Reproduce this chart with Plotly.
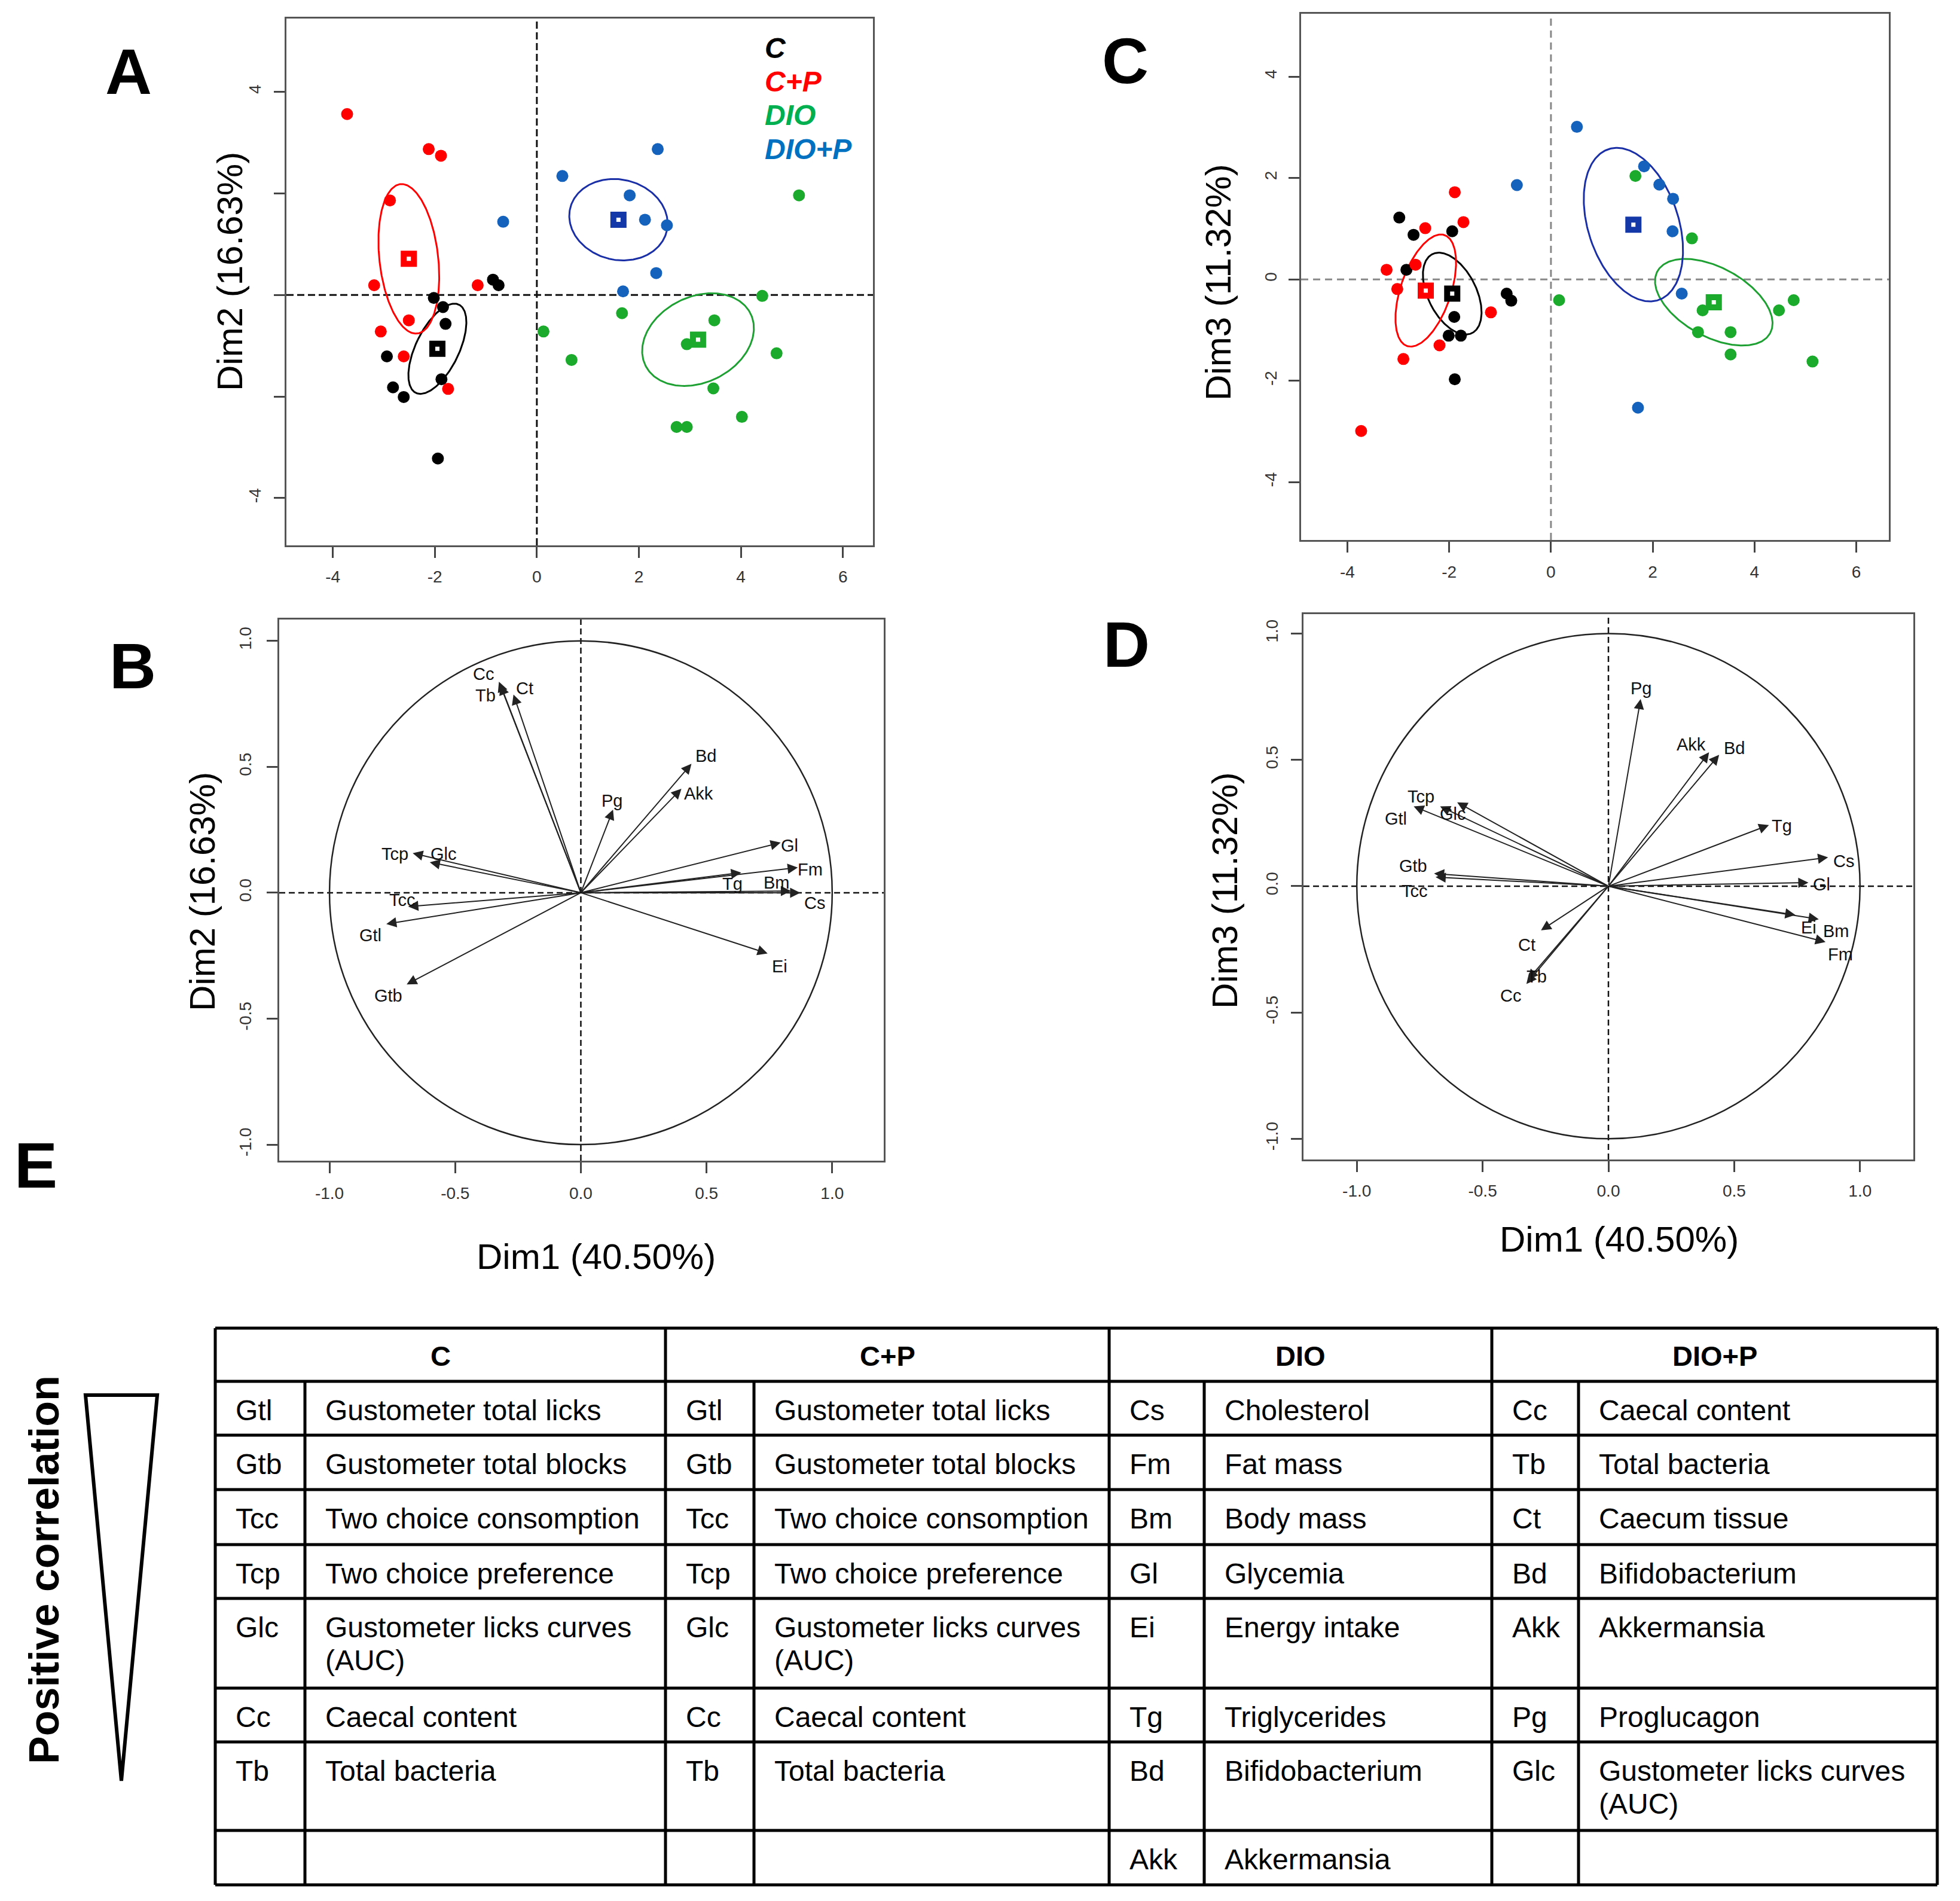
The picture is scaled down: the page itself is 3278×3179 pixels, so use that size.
import numpy as np
import plotly.graph_objects as go

W, H = 3278, 3179
FONT = "Liberation Sans"

# ---------------- DATA ----------------
groups = ["C", "C+P", "DIO", "DIO+P"]
point_colors = ["#000000", "#FF0000", "#1BAA2C", "#1462BC"]
ellipse_colors = ["#000000", "#FF0000", "#1FA033", "#1A2EA6"]
legend_colors = ["#000000", "#FF0000", "#00B050", "#0070C0"]

# Panel A : individuals on Dim1 / Dim2
A_dim1 = {
    "C": [-0.86, -0.75, -2.02, -1.84, -1.79, -2.94, -1.87, -2.82, -2.61, -1.94],
    "C+P": [-3.72, -2.12, -1.88, -2.88, -3.19, -1.16, -2.51, -3.06, -2.61, -1.74],
    "DIO": [0.13, 0.68, 1.67, 5.14, 4.42, 3.48, 2.94, 4.70, 3.46, 4.02, 2.74, 2.94],
    "DIO+P": [-0.66, 0.50, 2.37, 1.82, 2.12, 2.55, 2.34, 1.69],
}
A_dim2 = {
    "C": [0.30, 0.19, -0.06, -0.24, -0.57, -1.21, -1.66, -1.82, -2.01, -3.22],
    "C+P": [3.56, 2.87, 2.74, 1.86, 0.19, 0.19, -0.50, -0.72, -1.21, -1.85],
    "DIO": [-0.72, -1.28, -0.36, 1.96, -0.02, -0.50, -0.97, -1.15, -1.84, -2.40, -2.60, -2.60],
    "DIO+P": [1.44, 2.34, 2.87, 1.96, 1.48, 1.37, 0.43, 0.07],
}
A_bary1 = {"C": -1.95, "C+P": -2.51, "DIO": 3.16, "DIO+P": 1.60}
A_bary2 = {"C": -1.06, "C+P": 0.71, "DIO": -0.88, "DIO+P": 1.48}

# Panel C : individuals on Dim1 / Dim3
C_dim1 = {
    "C": [-2.98, -2.70, -1.94, -2.84, -0.87, -0.78, -1.90, -2.01, -1.77, -1.89],
    "C+P": [-1.89, -1.72, -2.47, -3.23, -2.66, -3.02, -1.18, -2.19, -2.90, -3.73],
    "DIO": [1.66, 2.77, 0.16, 2.98, 2.89, 3.53, 4.48, 4.77, 3.53, 5.14],
    "DIO+P": [-0.67, 0.51, 1.83, 2.13, 2.40, 2.39, 2.57, 1.71],
}
C_dim3 = {
    "C": [1.22, 0.88, 0.95, 0.19, -0.28, -0.42, -0.74, -1.11, -1.11, -1.97],
    "C+P": [1.72, 1.13, 1.01, 0.19, 0.29, -0.19, -0.65, -1.30, -1.57, -2.99],
    "DIO": [2.04, 0.81, -0.41, -0.61, -1.04, -1.04, -0.61, -0.41, -1.48, -1.62],
    "DIO+P": [1.86, 3.01, 2.23, 1.87, 1.59, 0.95, -0.28, -2.53],
}
C_bary1 = {"C": -1.94, "C+P": -2.46, "DIO": 3.20, "DIO+P": 1.62}
C_bary3 = {"C": -0.28, "C+P": -0.22, "DIO": -0.45, "DIO+P": 1.08}

# Variables (correlation circles)
var_names = ["Cc", "Tb", "Ct", "Bd", "Akk", "Pg", "Gl", "Fm", "Tg", "Bm", "Cs", "Ei",
             "Tcp", "Glc", "Tcc", "Gtl", "Gtb"]
var_dim1 = [-0.326, -0.320, -0.268, 0.440, 0.400, 0.128, 0.795, 0.863, 0.638, 0.836, 0.873, 0.743,
            -0.669, -0.601, -0.687, -0.774, -0.693]
var_dim2 = [0.838, 0.826, 0.787, 0.512, 0.413, 0.330, 0.199, 0.100, 0.080, 0.007, 0.000, -0.241,
            0.157, 0.121, -0.055, -0.124, -0.364]
var_dim3 = [-0.387, -0.370, -0.175, 0.520, 0.530, 0.741, 0.014, -0.221, 0.242, -0.131, 0.114, -0.114,
            0.316, 0.332, 0.036, 0.316, 0.050]

# Table E
table_groups = ["C", "C+P", "DIO", "DIO+P"]
table_abbr = [
    ["Gtl", "Gtb", "Tcc", "Tcp", "Glc", "Cc", "Tb", ""],
    ["Gtl", "Gtb", "Tcc", "Tcp", "Glc", "Cc", "Tb", ""],
    ["Cs", "Fm", "Bm", "Gl", "Ei", "Tg", "Bd", "Akk"],
    ["Cc", "Tb", "Ct", "Bd", "Akk", "Pg", "Glc", ""],
]
table_desc = [
    ["Gustometer total licks", "Gustometer total blocks", "Two choice consomption",
     "Two choice preference", "Gustometer licks curves\n(AUC)", "Caecal content", "Total bacteria", ""],
    ["Gustometer total licks", "Gustometer total blocks", "Two choice consomption",
     "Two choice preference", "Gustometer licks curves\n(AUC)", "Caecal content", "Total bacteria", ""],
    ["Cholesterol", "Fat mass", "Body mass", "Glycemia", "Energy intake", "Triglycerides",
     "Bifidobacterium", "Akkermansia"],
    ["Caecal content", "Total bacteria", "Caecum tissue", "Bifidobacterium", "Akkermansia",
     "Proglucagon", "Gustometer licks curves\n(AUC)", ""],
]

# ---------------- STYLE / LAYOUT ----------------
B_label_shift = {"Cc": (-26, 13), "Tb": (-25, -18), "Ct": (19, 11), "Bd": (24, 13), "Akk": (29, -8),
                 "Pg": (-2, 15), "Gl": (15, -5), "Fm": (21, -3), "Tg": (-15, -19), "Bm": (-24, 14),
                 "Cs": (24, -17), "Ei": (20, -22), "Tcp": (-30, -1), "Glc": (23, 14), "Tcc": (-10, 11),
                 "Gtl": (-27, -19), "Gtb": (-31, -19)}
D_label_shift = {"Pg": (1, 18), "Akk": (-30, 13), "Bd": (25, 11), "Tg": (22, -1), "Cs": (26, -6),
                 "Gl": (22, -3), "Ei": (22, -21), "Bm": (29, -20), "Fm": (25, -21), "Tcp": (-32, 16),
                 "Gtl": (-30, -21), "Glc": (-7, -19), "Gtb": (-35, 13), "Tcc": (-35, -23),
                 "Ct": (-24, -24), "Tb": (15, 5), "Cc": (-26, -20)}


def fx(p):
    return p / W


def fy(p):
    return 1 - p / H


def conf_ellipse(xs, ys, cx, cy, n=240):
    xs = np.asarray(xs, float)
    ys = np.asarray(ys, float)
    cov = np.cov(xs, ys) / len(xs)
    vals, vecs = np.linalg.eigh(cov)
    t = np.linspace(0, 2 * np.pi, n)
    circ = np.vstack([np.cos(t), np.sin(t)])
    pts = vecs @ (np.sqrt(vals * 5.991)[:, None] * circ)
    return cx + pts[0], cy + pts[1]


def paper_text(x, y, text, size, color="black", angle=0, xanchor="center", yanchor="middle"):
    return dict(x=fx(x), y=fy(y), xref="paper", yref="paper", showarrow=False, text=text,
                textangle=angle, xanchor=xanchor, yanchor=yanchor,
                font=dict(family=FONT, size=size, color=color))


fig = go.Figure()

# --- individuals panels A (x,y) and C (x2,y2)
for (d1, d2, b1, b2, xa, ya) in [(A_dim1, A_dim2, A_bary1, A_bary2, "x", "y"),
                                 (C_dim1, C_dim3, C_bary1, C_bary3, "x2", "y2")]:
    for g, pc, ec in zip(groups, point_colors, ellipse_colors):
        ex, ey = conf_ellipse(d1[g], d2[g], b1[g], b2[g])
        fig.add_trace(go.Scatter(x=ex, y=ey, mode="lines", line=dict(color=ec, width=3),
                                 xaxis=xa, yaxis=ya, showlegend=False, hoverinfo="skip"))
    for g, pc, ec in zip(groups, point_colors, ellipse_colors):
        fig.add_trace(go.Scatter(x=d1[g], y=d2[g], mode="markers",
                                 marker=dict(color=pc, size=20, line=dict(width=0)),
                                 xaxis=xa, yaxis=ya, showlegend=False, name=g))
    for g, pc, ec in zip(groups, point_colors, ellipse_colors):
        fig.add_trace(go.Scatter(x=[b1[g]], y=[b2[g]], mode="markers",
                                 marker=dict(symbol="square", color="white", size=17,
                                             line=dict(color=pc if g != "DIO+P" else "#1438A8", width=10)),
                                 xaxis=xa, yaxis=ya, showlegend=False))

annotations = []
shapes = []

# --- variable arrows panels B (x3,y3) and D (x4,y4)
for (vy, xa, ya, shifts) in [(var_dim2, "x3", "y3", B_label_shift), (var_dim3, "x4", "y4", D_label_shift)]:
    for name, vx, vyy in zip(var_names, var_dim1, vy):
        annotations.append(dict(x=vx, y=vyy, ax=0, ay=0, xref=xa, yref=ya, axref=xa, ayref=ya,
                                text="", showarrow=True, arrowhead=2, arrowsize=1.7, arrowwidth=2,
                                arrowcolor="#222222", standoff=0, startstandoff=0))
    for name, vx, vyy in zip(var_names, var_dim1, vy):
        sx, sy = shifts[name]
        annotations.append(dict(x=vx, y=vyy, xref=xa, yref=ya, text=name, showarrow=False,
                                xanchor="center", yanchor="middle",
                                xshift=sx, yshift=sy, font=dict(family=FONT, size=29, color="#111")))
    shapes.append(dict(type="circle", xref=xa, yref=ya, x0=-1, x1=1, y0=-1, y1=1,
                       line=dict(color="#222", width=2.5), layer="below"))

# --- dashed zero lines
for xa, ya, col, wd, dash in [("x", "y", "#111", 3, "12px,6px"), ("x2", "y2", "#888", 3, "12px,8px"),
                              ("x3", "y3", "#111", 2.5, "10px,6px"), ("x4", "y4", "#111", 2.5, "10px,6px")]:
    shapes.append(dict(type="line", xref=xa, yref=ya + " domain", x0=0, x1=0, y0=0, y1=1,
                       line=dict(color=col, width=wd, dash=dash), layer="below"))
    shapes.append(dict(type="line", xref=xa + " domain", yref=ya, x0=0, x1=1, y0=0, y1=0,
                       line=dict(color=col, width=wd, dash=dash), layer="below"))

# --- legend in panel A
for i, (g, c) in enumerate(zip(groups, legend_colors)):
    annotations.append(paper_text(1277, 80 + i * 56.5, "<b><i>%s</i></b>" % g, 48, c, xanchor="left"))

# --- panel letters
for letter, (lx, ly) in zip("ABCDE", [(215, 119), (222, 1113), (1882, 101), (1884, 1077), (60, 1948)]):
    annotations.append(paper_text(lx, ly, "<b>%s</b>" % letter, 108))

# --- axis titles
for txt, (tx, ty), ang in [("Dim2 (16.63%)", (384, 454), -90), ("Dim3 (11.32%)", (2038, 472), -90),
                           ("Dim2 (16.63%)", (338, 1491), -90), ("Dim3 (11.32%)", (2048, 1489), -90),
                           ("Dim1 (40.50%)", (997, 2101), 0), ("Dim1 (40.50%)", (2708, 2072), 0)]:
    annotations.append(paper_text(tx, ty, txt, 60, angle=ang))

# --- left "Positive correlation" + triangle
annotations.append(paper_text(74, 2625, "<b>Positive correlation</b>", 70, angle=-90))
tri = [(143, 2333), (263, 2333), (203, 2978)]
path = "M %f,%f L %f,%f L %f,%f Z" % (fx(tri[0][0]), fy(tri[0][1]), fx(tri[1][0]), fy(tri[1][1]),
                                      fx(tri[2][0]), fy(tri[2][1]))
shapes.append(dict(type="path", xref="paper", yref="paper", path=path,
                   line=dict(color="black", width=6), fillcolor="white"))

# --- table E
col_edges = [360, 510, 1113, 1261, 1855, 2014, 2495, 2640, 3240]
row_edges = [2221, 2310, 2400, 2491, 2583, 2673, 2823, 2913, 3061, 3152]
lw = 5
for r in row_edges:
    shapes.append(dict(type="line", xref="paper", yref="paper", x0=fx(col_edges[0]), x1=fx(col_edges[-1]),
                       y0=fy(r), y1=fy(r), line=dict(color="black", width=lw)))
for i, c in enumerate(col_edges):
    top = row_edges[0] if i % 2 == 0 else row_edges[1]
    shapes.append(dict(type="line", xref="paper", yref="paper", x0=fx(c), x1=fx(c),
                       y0=fy(top), y1=fy(row_edges[-1]), line=dict(color="black", width=lw)))
for gi, gname in enumerate(table_groups):
    cx = (col_edges[2 * gi] + col_edges[2 * gi + 2]) / 2
    annotations.append(paper_text(cx, (row_edges[0] + row_edges[1]) / 2 + 2, "<b>%s</b>" % gname, 47))
    for ri in range(8):
        rtop = row_edges[ri + 1]
        for col_i, txt in [(2 * gi, table_abbr[gi][ri]), (2 * gi + 1, table_desc[gi][ri])]:
            if not txt:
                continue
            for li, line in enumerate(txt.split("\n")):
                annotations.append(paper_text(col_edges[col_i] + 32, rtop + 48 + li * 55, line, 48,
                                              xanchor="left"))


# --- axes
def axis(domain, rng, tickvals, ticktext, angle, standoff):
    return dict(domain=domain, range=rng, tickvals=tickvals, ticktext=ticktext, tickangle=angle,
                ticks="outside", ticklen=18, tickwidth=3, tickcolor="#444",
                showline=True, linecolor="#555", linewidth=3, mirror=True,
                showgrid=False, zeroline=False, ticklabelstandoff=standoff,
                tickfont=dict(family=FONT, size=28, color="#333"), fixedrange=True)


pca_ticks = [-4, -2, 0, 2, 4, 6]
pca_text = ["-4", "-2", "0", "2", "4", "6"]
c_ticks = [-1.0, -0.5, 0.0, 0.5, 1.0]
c_text = ["-1.0", "-0.5", "0.0", "0.5", "1.0"]

fig.update_layout(
    width=W, height=H, margin=dict(l=0, r=0, t=0, b=0),
    paper_bgcolor="white", plot_bgcolor="white", showlegend=False,
    font=dict(family=FONT),
    xaxis=axis([fx(479), fx(1460)], [-4.91, 6.59], pca_ticks, pca_text, 0, 7),
    yaxis=axis([fy(912), fy(31)], [-4.93, 5.44], [-4, -2, 0, 2, 4], ["-4", "", "", "", "4"], -90, 11),
    xaxis2=axis([fx(2176), fx(3159)], [-4.91, 6.64], pca_ticks, pca_text, 0, 8),
    yaxis2=axis([fy(903), fy(23)], [-5.14, 5.24], [-4, -2, 0, 2, 4], ["-4", "-2", "0", "2", "4"], -90, 9),
    xaxis3=axis([fx(467), fx(1478)], [-1.20, 1.205], c_ticks, c_text, 0, 9),
    yaxis3=axis([fy(1941), fy(1036)], [-1.064, 1.085], c_ticks, c_text, -90, 15),
    xaxis4=axis([fx(2180), fx(3200)], [-1.212, 1.212], c_ticks, c_text, 0, 7),
    yaxis4=axis([fy(1939), fy(1027)], [-1.082, 1.077], c_ticks, c_text, -90, 11),
    annotations=annotations, shapes=shapes,
)
fig.update_layout(xaxis=dict(anchor="y"), yaxis=dict(anchor="x"),
                  xaxis2=dict(anchor="y2"), yaxis2=dict(anchor="x2"),
                  xaxis3=dict(anchor="y3"), yaxis3=dict(anchor="x3"),
                  xaxis4=dict(anchor="y4"), yaxis4=dict(anchor="x4"))

fig.write_html("out.html", config={"displayModeBar": False},
               post_script="document.body.style.margin='0';document.body.style.padding='0';")
